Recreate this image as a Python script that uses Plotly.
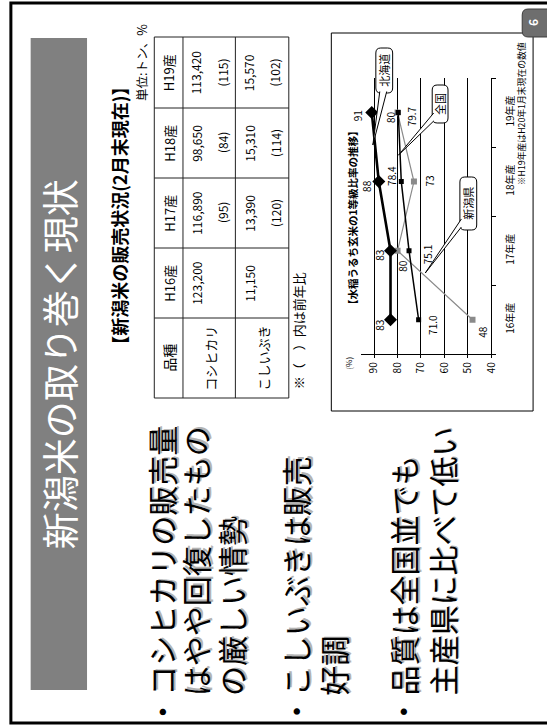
import plotly.graph_objects as go

# ---------------- data ----------------
years = ["16年産", "17年産", "18年産", "19年産"]
hokkaido = [83, 83, 88, 91]
zenkoku = [71.0, 75.1, 78.4, 79.7]
niigata = [48, 80, 73, 80]
value_ticks = [40, 50, 60, 70, 80, 90]

table_years = ["H16産", "H17産", "H18産", "H19産"]
varieties = ["コシヒカリ", "こしいぶき"]
koshihikari_t = [123200, 116890, 98650, 113420]
koshiibuki_t = [11150, 13390, 15310, 15570]

slide_title = "新潟米の取り巻く現状"
table_title = "【新潟米の販売状況(2月末現在)】"
unit_note = "単位:トン、%"
table_note = "※（　）内は前年比"
chart_title = "【水稲うるち玄米の1等級比率の推移】"
chart_note = "※H19年産はH20年1月末現在の数値"
bullets = [
    ["コシヒカリの販売量", "はやや回復したもの", "の厳しい情勢"],
    ["こしいぶきは販売", "好調"],
    ["品質は全国並でも", "主産県に比べて低い"],
]

# ---------------- page geometry (pixels) ----------------
W, H = 547, 726
JP = "Noto Sans CJK JP"


def fx(x):
    return x / W


def fy(y):
    return 1 - y / H


shapes = []
annotations = []


def rect(x0, y0, x1, y1, color="black", width=1, fill=None, layer="above"):
    shapes.append(dict(type="rect", xref="paper", yref="paper",
                       x0=fx(x0), x1=fx(x1), y0=fy(y1), y1=fy(y0),
                       line=dict(color=color, width=width),
                       fillcolor=fill, layer=layer))


def line(x0, y0, x1, y1, color="black", width=1):
    shapes.append(dict(type="line", xref="paper", yref="paper",
                       x0=fx(x0), x1=fx(x1), y0=fy(y0), y1=fy(y1),
                       line=dict(color=color, width=width)))


def path(points, close, color="black", width=1, fill=None):
    d = "M " + " L ".join(f"{fx(x):.5f},{fy(y):.5f}" for x, y in points)
    if close:
        d += " Z"
    shapes.append(dict(type="path", xref="paper", yref="paper", path=d,
                       line=dict(color=color, width=width), fillcolor=fill))


def rounded(x0, y0, x1, y1, r, color="black", width=1, fill="white"):
    def p(x, y):
        return f"{fx(x):.5f},{fy(y):.5f}"
    d = (f"M {p(x0 + r, y0)} L {p(x1 - r, y0)} Q {p(x1, y0)} {p(x1, y0 + r)} "
         f"L {p(x1, y1 - r)} Q {p(x1, y1)} {p(x1 - r, y1)} "
         f"L {p(x0 + r, y1)} Q {p(x0, y1)} {p(x0, y1 - r)} "
         f"L {p(x0, y0 + r)} Q {p(x0, y0)} {p(x0 + r, y0)} Z")
    shapes.append(dict(type="path", xref="paper", yref="paper", path=d,
                       line=dict(color=color, width=width), fillcolor=fill))


def text(x, y, s, size, color="black", bold=False, xanchor="center",
         yanchor="middle", angle=-90, xshift=0, yshift=0):
    annotations.append(dict(
        x=fx(x), y=fy(y), xref="paper", yref="paper", text=s,
        showarrow=False, textangle=angle, xanchor=xanchor, yanchor=yanchor,
        xshift=xshift, yshift=yshift, borderpad=0,
        font=dict(family=JP, size=size, color=color,
                  weight="bold" if bold else "normal")))


# ---------------- slide frame & title bar ----------------
rect(11, 3, 620, 723, width=3)
rect(31, 38, 88, 690, color="rgba(0,0,0,0)", width=0, fill="#808080")
text(60, 364, slide_title, 37, color="white")

# ---------------- sales table ----------------
text(120, 216, table_title, 18, bold=True)
text(143.5, 62, unit_note, 12.5)

tx = [156, 185, 238, 292]            # row borders (across the page)
ty = [398, 318, 248, 178, 108, 37]   # column borders (down the page)
rect(tx[0], ty[-1], tx[-1], ty[0], color="#222", width=1)
for x in tx[1:-1]:
    line(x, ty[-1], x, ty[0], color="#222")
for y in ty[1:-1]:
    line(tx[0], y, tx[-1], y, color="#222")

col_mid = [(ty[i] + ty[i + 1]) / 2 for i in range(5)]
head_x = (tx[0] + tx[1]) / 2
text(head_x, col_mid[0], "品種", 14)
for j, yr in enumerate(table_years):
    text(head_x, col_mid[j + 1], yr, 13)

for r, (name, vals) in enumerate(zip(varieties, [koshihikari_t, koshiibuki_t])):
    x_lo, x_hi = tx[r + 1], tx[r + 2]
    mid = (x_lo + x_hi) / 2
    text(mid + 0.5, col_mid[0], name, 13)
    for j, v in enumerate(vals):
        text(mid - 13.5, col_mid[j + 1], f"{v:,}", 12)
        if j > 0:
            ratio = round(100 * v / vals[j - 1])
            text(mid + 13, col_mid[j + 1], f"({ratio})", 12)

text(302, 390, table_note, 13, yanchor="bottom")

# ---------------- bullet points ----------------
bullet_x = [[162.5, 197.5, 233.5], [298.5, 336.5], [407, 446]]
for lines_, xs in zip(bullets, bullet_x):
    text(xs[0] - 0.5, 711.7, "・", 30)
    for s, x in zip(lines_, xs):
        text(x, 697, s, 30, color="#b4b4b4", yanchor="bottom",
             xshift=1.5, yshift=1.5)
        text(x, 697, s, 30, yanchor="bottom")

# ---------------- chart frame & notes ----------------
rect(335, 33, 539, 411, color="black", width=1, layer="below")
text(356, 218, chart_title, 10.5, bold=True)
text(351.5, 363, "(%)", 8)
text(527, 114, chart_note, 8.8)

# slide number badge
rounded(528, 9, 560, 37, 6, color="#3c3c3c", width=1, fill="#6e6e6e")
text(538, 23, "6", 12, color="white", bold=True)

# ---------------- line chart ----------------
idx = list(range(len(years)))
fig = go.Figure()
fig.add_trace(go.Scatter(
    x=niigata, y=years, mode="lines+markers", name="新潟県",
    line=dict(color="#8a8a8a", width=1.2),
    marker=dict(symbol="square", size=6, color="#8a8a8a")))
fig.add_trace(go.Scatter(
    x=zenkoku, y=years, mode="lines+markers", name="全国",
    line=dict(color="black", width=1.5),
    marker=dict(symbol="square", size=5, color="black")))
fig.add_trace(go.Scatter(
    x=hokkaido, y=years, mode="lines+markers", name="北海道",
    line=dict(color="black", width=2.6),
    marker=dict(symbol="diamond", size=10, color="black")))

# value labels next to each point (dx right, dy down, in px)
label_sets = [
    (hokkaido, "{:.0f}", [(-11, 5.5), (-11, 4.5), (-13, 4.5), (-14, 3)]),
    (zenkoku, "{:.1f}", [(14, 5.5), (18.5, 4), (-10, -6), (13, 3.5)]),
    (niigata, "{:.0f}", [(10.5, 12), (5.5, 15), (16, -1), (-7, 5)]),
]
for vals, fmt, offs in label_sets:
    for i, (v, (dx, dy)) in enumerate(zip(vals, offs)):
        annotations.append(dict(
            x=v, y=idx[i], xref="x", yref="y", text=fmt.format(v),
            showarrow=False, textangle=-90, xshift=dx, yshift=-dy,
            borderpad=0, font=dict(family=JP, size=10, color="black")))

# callouts naming each series
callouts = [
    ("北海道", (380, 48, 397, 93), [(384, 91.5), (377, 145), (391, 91.5)]),
    ("全国", (437, 85, 453, 123), [(438.5, 113), (403, 155), (438.5, 121)]),
    ("新潟県", (465, 177, 482, 230), [(466.5, 219), (430, 273), (466.5, 227)]),
]
for name, (x0, y0, x1, y1), wedge in callouts:
    rounded(x0, y0, x1, y1, 5)
    path(wedge, close=False, fill="white")
    text((x0 + x1) / 2, (y0 + y1) / 2, name, 11)

axis_font = dict(family=JP, size=10, color="black")
fig.update_layout(
    width=W, height=H, autosize=False,
    margin=dict(l=0, r=0, t=0, b=0, pad=0),
    paper_bgcolor="white", plot_bgcolor="rgba(0,0,0,0)",
    showlegend=False,
    shapes=shapes, annotations=annotations,
    xaxis=dict(
        domain=[fx(365), fx(496.7)], range=[95.6, 40],
        tickvals=value_ticks, tickangle=-90, tickfont=axis_font,
        showgrid=True, gridcolor="black", gridwidth=1,
        showline=True, linecolor="black", linewidth=1,
        ticks="outside", ticklen=3, tickcolor="black",
        zeroline=False, fixedrange=True),
    yaxis=dict(
        domain=[fy(354.3), fy(78)], type="category",
        categoryorder="array", categoryarray=years, range=[-0.5, 3.5],
        side="right", showline=True, linecolor="black", linewidth=1,
        ticks="outside", tickson="boundaries", ticklen=4, tickcolor="black",
        tickangle=-90, tickfont=axis_font, ticklabelstandoff=10,
        showgrid=False, zeroline=False, fixedrange=True),
)

fig.write_html("out.html", config={"displayModeBar": False})
